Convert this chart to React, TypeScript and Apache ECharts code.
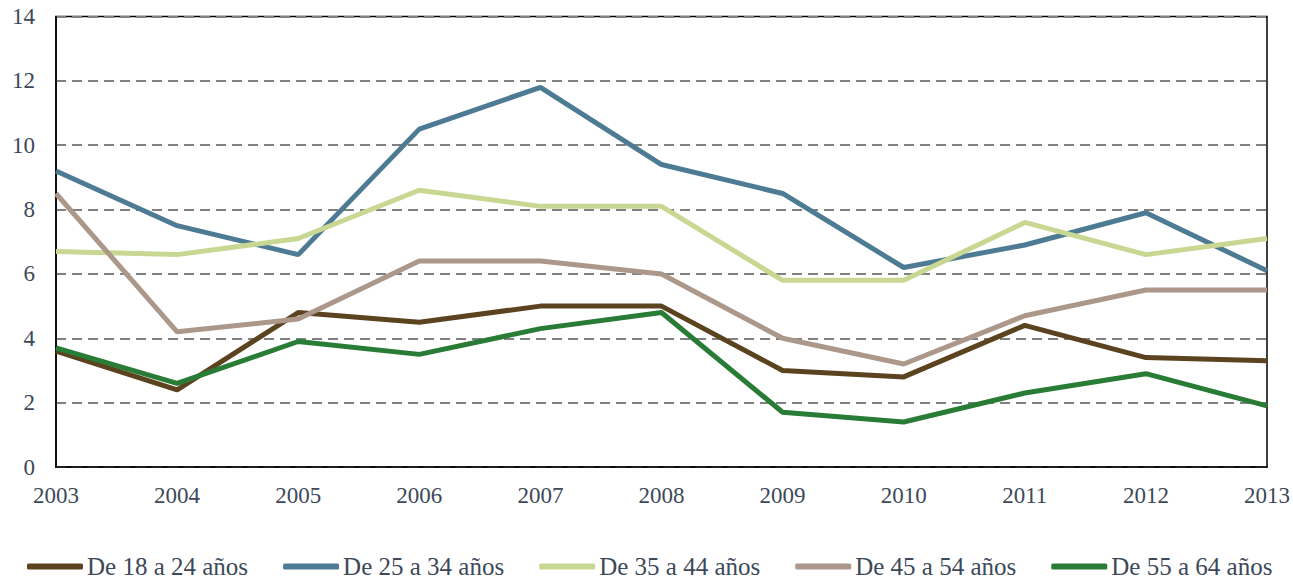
import React, { useEffect, useRef } from "react";
import * as echarts from "echarts";

const years = ["2003", "2004", "2005", "2006", "2007", "2008", "2009", "2010", "2011", "2012", "2013"];
const seriesNames = ["De 18 a 24 años", "De 25 a 34 años", "De 35 a 44 años", "De 45 a 54 años", "De 55 a 64 años"];
const age18to24 = [3.6, 2.4, 4.8, 4.5, 5.0, 5.0, 3.0, 2.8, 4.4, 3.4, 3.3];
const age25to34 = [9.2, 7.5, 6.6, 10.5, 11.8, 9.4, 8.5, 6.2, 6.9, 7.9, 6.1];
const age35to44 = [6.7, 6.6, 7.1, 8.6, 8.1, 8.1, 5.8, 5.8, 7.6, 6.6, 7.1];
const age45to54 = [8.5, 4.2, 4.6, 6.4, 6.4, 6.0, 4.0, 3.2, 4.7, 5.5, 5.5];
const age55to64 = [3.7, 2.6, 3.9, 3.5, 4.3, 4.8, 1.7, 1.4, 2.3, 2.9, 1.9];
const colors = ["#5c4320", "#4e7b94", "#c8d893", "#ac988a", "#287c36"];

const FONT = "Liberation Serif";
const TEXT = "#3d4959";

export default function App() {
  const ref = useRef<HTMLDivElement>(null);
  useEffect(() => {
    document.body.style.margin = "0";
    const chart = echarts.init(ref.current!, null, { renderer: "svg" });
    const data = [age18to24, age25to34, age35to44, age45to54, age55to64];
    chart.setOption({
      animation: false,
      color: colors,
      textStyle: { fontFamily: FONT },
      grid: {
        left: 56,
        right: 26,
        top: 16.5,
        bottom: 113,
        show: true,
        borderColor: "#000",
        borderWidth: 1.5,
        backgroundColor: "transparent",
      },
      legend: {
        top: 554,
        left: 27,
        padding: 0,
        icon: "roundRect",
        itemWidth: 56,
        itemHeight: 6,
        itemGap: 35,
        textStyle: { fontFamily: FONT, fontSize: 25, lineHeight: 24, color: TEXT, padding: [0, 0, 0, -1] },
        data: seriesNames,
      },
      xAxis: {
        type: "category",
        boundaryGap: false,
        data: years,
        axisLine: { show: true, lineStyle: { color: "#000", width: 1.5 } },
        axisTick: { show: false },
        axisLabel: { fontFamily: FONT, fontSize: 23, color: TEXT, margin: 17 },
        splitLine: { show: false },
      },
      yAxis: {
        type: "value",
        min: 0,
        max: 14,
        interval: 2,
        axisLine: { show: true, lineStyle: { color: "#000", width: 1.5 } },
        axisTick: { show: false },
        axisLabel: { fontFamily: FONT, fontSize: 23, color: TEXT, margin: 21 },
        splitLine: { show: true, lineStyle: { color: "#808080", width: 2.2, type: [10, 6] } },
      },
      series: seriesNames.map((name, i) => ({
        name,
        type: "line",
        data: data[i],
        showSymbol: false,
        symbol: "none",
        lineStyle: { width: 5, color: colors[i] },
        itemStyle: { color: colors[i] },
      })),
    });
    return () => chart.dispose();
  }, []);
  return <div ref={ref} style={{ width: 1293, height: 580 }} />;
}
